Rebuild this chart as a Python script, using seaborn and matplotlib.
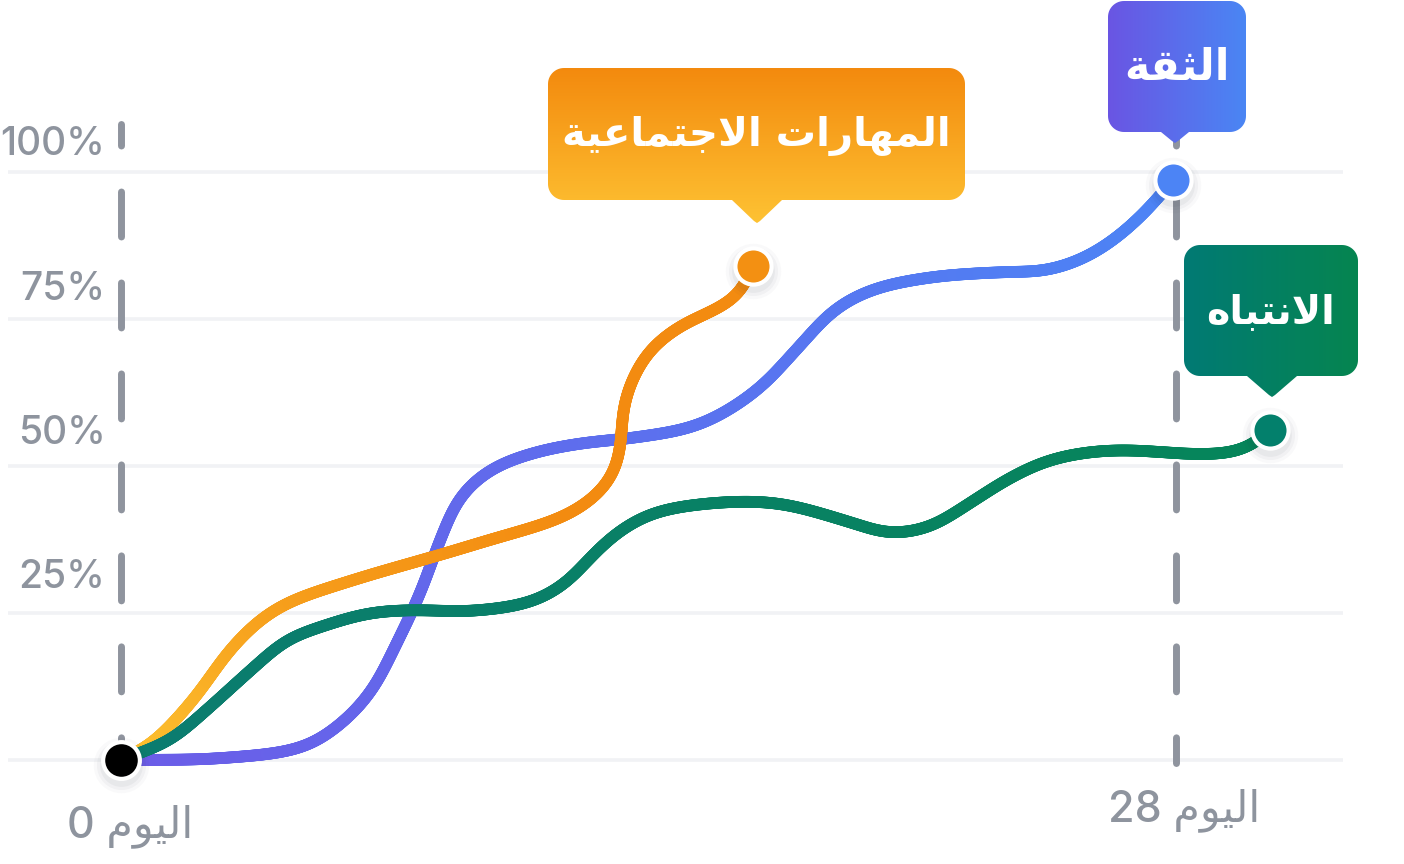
import numpy as np
import matplotlib
matplotlib.use("Agg")
import matplotlib.pyplot as plt
import seaborn as sns
from matplotlib.collections import LineCollection
from matplotlib.patches import Polygon
from matplotlib.colors import to_rgb
from matplotlib.transforms import offset_copy

sns.set_theme(style="white")
plt.rcParams["font.family"] = ["Inter", "DejaVu Sans"]
plt.rcParams["lines.scale_dashes"] = False

# ---------------- data ----------------
series_names = ["الثقة", "المهارات الاجتماعية", "الانتباه"]

conf_day = [0.0, 2.63, 4.83, 5.73, 6.61, 7.32, 7.94, 8.47, 9.0, 9.79, 10.93, 12.26,
            13.59, 15.37, 16.88, 17.91, 18.92, 19.9, 21.5, 23.49, 24.5, 25.5,
            26.33, 27.18, 27.92]
conf_val = [0.0, 0.3, 2.2, 5.6, 11.4, 19.9, 28.4, 37.4, 44.7, 49.3, 52.2, 53.9,
            54.8, 57.1, 62.9, 69.7, 76.5, 79.9, 82.1, 83.0, 83.2, 85.2,
            88.4, 93.2, 98.6]

social_day = [0.0, 0.77, 1.91, 2.89, 3.69, 4.41, 6.16, 8.47, 9.61, 11.84, 12.71,
              13.11, 13.27, 13.32, 13.56, 14.04, 14.84, 15.9, 16.43, 16.77]
social_val = [0.0, 2.6, 10.2, 18.7, 23.8, 26.7, 30.6, 34.9, 37.1, 41.7, 45.6,
              49.3, 53.9, 59.5, 64.6, 69.7, 73.8, 77.0, 79.4, 84.0]

attn_day = [0.0, 1.3, 2.18, 3.5, 4.4, 5.28, 6.61, 7.94, 9.18, 10.93, 11.84, 12.45,
            13.16, 14.04, 15.37, 17.38, 19.43, 20.33, 21.44, 22.48, 23.49, 24.5,
            25.5, 26.54, 27.55, 28.56, 29.56, 30.07, 30.49]
attn_val = [0.0, 3.4, 8.0, 15.6, 20.4, 22.6, 25.0, 25.5, 25.3, 27.0, 30.3, 34.4,
            38.6, 41.8, 43.5, 43.7, 40.3, 38.6, 39.6, 43.5, 47.6, 50.7,
            52.2, 52.7, 52.4, 52.0, 52.4, 53.7, 56.1]

grid_values = [0, 25, 50, 75, 100]
tick_values = [25, 50, 75, 100]
tick_labels = ["25%", "50%", "75%", "100%"]
day_marks = [0, 28]
day_word = "اليوم"

# ---------------- Arabic shaping (presentation forms, visual order) ----------------
FORMS = {
    "ا": ("\uFE8D", "\uFE8E", None, None),
    "ب": ("\uFE8F", "\uFE90", "\uFE91", "\uFE92"),
    "ة": ("\uFE93", "\uFE94", None, None),
    "ت": ("\uFE95", "\uFE96", "\uFE97", "\uFE98"),
    "ث": ("\uFE99", "\uFE9A", "\uFE9B", "\uFE9C"),
    "ج": ("\uFE9D", "\uFE9E", "\uFE9F", "\uFEA0"),
    "ر": ("\uFEAD", "\uFEAE", None, None),
    "ع": ("\uFEC9", "\uFECA", "\uFECB", "\uFECC"),
    "ق": ("\uFED5", "\uFED6", "\uFED7", "\uFED8"),
    "ل": ("\uFEDD", "\uFEDE", "\uFEDF", "\uFEE0"),
    "م": ("\uFEE1", "\uFEE2", "\uFEE3", "\uFEE4"),
    "ن": ("\uFEE5", "\uFEE6", "\uFEE7", "\uFEE8"),
    "ه": ("\uFEE9", "\uFEEA", "\uFEEB", "\uFEEC"),
    "و": ("\uFEED", "\uFEEE", None, None),
    "ي": ("\uFEF1", "\uFEF2", "\uFEF3", "\uFEF4"),
}


def shape_word(word):
    units, i = [], 0
    while i < len(word):
        if word[i] == "ل" and i + 1 < len(word) and word[i + 1] == "ا":
            units.append("LA")
            i += 2
        else:
            units.append(word[i])
            i += 1

    def dual(u):
        return u != "LA" and u in FORMS and FORMS[u][2] is not None

    def joinable(u):
        return u == "LA" or u in FORMS

    out = []
    for k, u in enumerate(units):
        pj = k > 0 and dual(units[k - 1])
        nj = k + 1 < len(units) and joinable(units[k + 1]) and dual(u)
        if u == "LA":
            out.append("\uFEFC" if pj else "\uFEFB")
            continue
        if u not in FORMS:
            out.append(u)
            continue
        iso, fin, ini, med = FORMS[u]
        out.append(med if (pj and nj) else fin if pj else ini if nj else iso)
    return "".join(out)


def visual(text):
    return " ".join(shape_word(w)[::-1] for w in text.split(" ")[::-1])


# ---------------- figure ----------------
W, H = 1404, 864
fig = plt.figure(figsize=(W / 100, H / 100), dpi=100)
fig.patch.set_facecolor("white")
ax = fig.add_axes([0, 0, 1, 1])
PX_DAY, PX_PCT = 37.68, 5.88
ax.set_xlim(-121 / PX_DAY, (W - 121) / PX_DAY)
ax.set_ylim(-(H - 760) / PX_PCT, 760 / PX_PCT)
ax.axis("off")

# gridlines
for v in grid_values:
    ax.plot([-3.0, 32.43], [v, v], color="#F1F2F5", lw=2.6, zorder=1,
            solid_capstyle="butt")

# dashed day markers
for d in day_marks:
    ax.plot([d, d], [108.16, -0.5], color="#8F949E", lw=5.0,
            linestyle=(16.9, (32.4, 33.1)), dash_capstyle="round", zorder=2)


def catmull(P, n=40, alpha=0.5):
    P = np.asarray(P, float)
    P = np.vstack([2 * P[0] - P[1], P, 2 * P[-1] - P[-2]])
    out = []
    for i in range(1, len(P) - 2):
        p0, p1, p2, p3 = P[i - 1], P[i], P[i + 1], P[i + 2]
        t0 = 0.0
        t1 = t0 + max(np.linalg.norm(p1 - p0), 1e-6) ** alpha
        t2 = t1 + max(np.linalg.norm(p2 - p1), 1e-6) ** alpha
        t3 = t2 + max(np.linalg.norm(p3 - p2), 1e-6) ** alpha
        t = np.linspace(t1, t2, n, endpoint=False)[:, None]
        A1 = (t1 - t) / (t1 - t0) * p0 + (t - t0) / (t1 - t0) * p1
        A2 = (t2 - t) / (t2 - t1) * p1 + (t - t1) / (t2 - t1) * p2
        A3 = (t3 - t) / (t3 - t2) * p2 + (t - t2) / (t3 - t2) * p3
        B1 = (t2 - t) / (t2 - t0) * A1 + (t - t0) / (t2 - t0) * A2
        B2 = (t3 - t) / (t3 - t1) * A2 + (t - t1) / (t3 - t1) * A3
        C = (t2 - t) / (t2 - t1) * B1 + (t - t1) / (t2 - t1) * B2
        out.append(C)
    out.append(P[-2][None, :])
    return np.vstack(out)


def resample(c, step=1.0):
    d = np.r_[0, np.cumsum(np.linalg.norm(np.diff(c, axis=0), axis=1))]
    s = np.r_[np.arange(0, d[-1], step), d[-1]]
    return np.c_[np.interp(s, d, c[:, 0]), np.interp(s, d, c[:, 1])]


def blur(c, sigma=14.0):
    pad = int(3 * sigma)
    pad = min(pad, len(c) - 2)
    head = 2 * c[0] - c[1:pad + 1][::-1]
    tail = 2 * c[-1] - c[-pad - 1:-1][::-1]
    cc = np.vstack([head, c, tail])
    k = np.exp(-0.5 * (np.arange(-pad, pad + 1) / sigma) ** 2)
    k /= k.sum()
    x = np.convolve(cc[:, 0], k, "same")[pad:-pad]
    y = np.convolve(cc[:, 1], k, "same")[pad:-pad]
    return np.c_[x, y]


def smooth(days, vals):
    disp = ax.transData.transform(np.c_[days, vals])
    curve = blur(resample(catmull(disp)))
    return ax.transData.inverted().transform(curve)


def mix(c0, c1, t):
    c0, c1 = np.array(to_rgb(c0)), np.array(to_rgb(c1))
    t = np.clip(np.asarray(t), 0, 1)[:, None]
    return c0 * (1 - t) + c1 * t


LW = 8.4
specs = [
    (conf_day, conf_val, "#6C5CE7", "#4C84F5", "x", (0, 28), "#4C84F5"),
    (social_day, social_val, "#FCBE2E", "#F38B10", "y", (2, 42), "#F39012"),
    (attn_day, attn_val, "#0B7C70", "#06855A", "x", (0, 30), "#03806C"),
]
for days, vals, c0, c1, axis_, rng, _ in specs:
    cur = smooth(days, vals)
    sns.lineplot(x=cur[:, 0], y=cur[:, 1], sort=False, estimator=None, ax=ax,
                 color=c1, lw=LW, zorder=3, legend=False)
    segs = np.stack([cur[:-1], cur[1:]], axis=1)
    mids = 0.5 * (cur[:-1] + cur[1:])
    key = mids[:, 0] if axis_ == "x" else mids[:, 1]
    t = (key - rng[0]) / (rng[1] - rng[0])
    lc = LineCollection(segs, colors=mix(c0, c1, t), linewidths=LW,
                        capstyle="round", joinstyle="round", zorder=4)
    ax.add_collection(lc)

# marker shadows
shadow_tr = offset_copy(ax.transData, fig=fig, x=0, y=-5, units="dots")
end_x = [conf_day[-1], social_day[-1], attn_day[-1], 0]
end_y = [conf_val[-1], social_val[-1], attn_val[-1], 0]
for s, a in [(1600, 0.025), (1250, 0.035), (950, 0.045)]:
    ax.scatter(end_x, end_y, s=s, color="#1F2937", alpha=a, lw=0,
               transform=shadow_tr, zorder=5)

# end markers
for (days, vals, c0, c1, axis_, rng, mc) in specs:
    sns.scatterplot(x=[days[-1]], y=[vals[-1]], s=680, color=mc,
                    edgecolor="white", linewidth=3.0, ax=ax, zorder=6,
                    legend=False)
# start marker
sns.scatterplot(x=[conf_day[0]], y=[conf_val[0]], s=700, color="black",
                edgecolor="white", linewidth=3.0, ax=ax, zorder=7, legend=False)

# y tick labels
for v, lab in zip(tick_values, tick_labels):
    ax.text(-0.41, v + 4.6 + (100 - v) * 0.02, lab, ha="right", va="center",
            fontsize=28, fontweight="medium", color="#8E949E", zorder=3)

# day labels
ax.text(day_marks[0] + 0.24, -13.1, f"{day_marks[0]} {visual(day_word)}",
        ha="center", va="baseline", fontsize=31, fontweight="medium",
        color="#8E949E")
ax.text(day_marks[1] + 0.21, -10.4, f"{day_marks[1]} {visual(day_word)}",
        ha="center", va="baseline", fontsize=31, fontweight="medium",
        color="#8E949E")

# ---------------- bubbles (pixel overlay) ----------------
ov = fig.add_axes([0, 0, 1, 1])
ov.set_xlim(0, W)
ov.set_ylim(H, 0)
ov.axis("off")


def bubble(x0, x1, y0, y1, tipx, tiph, half, c0, c1, direction, label, fs,
           r=16):
    pts = []

    def arc(cx, cy, a0, a1):
        a = np.radians(np.linspace(a0, a1, 14))
        return list(zip(cx + r * np.cos(a), cy + r * np.sin(a)))

    pts += arc(x0 + r, y0 + r, 180, 270)
    pts += arc(x1 - r, y0 + r, 270, 360)
    pts += arc(x1 - r, y1 - r, 0, 90)
    tipy = y1 + tiph
    pts += [(tipx + half, y1), (tipx + 3, tipy - 2), (tipx, tipy),
            (tipx - 3, tipy - 2), (tipx - half, y1)]
    pts += arc(x0 + r, y1 - r, 90, 180)
    poly = Polygon(pts, closed=True, facecolor="none", edgecolor="none",
                   transform=ov.transData)
    ov.add_patch(poly)
    n = 256
    tt = np.linspace(0, 1, n)
    if direction == "x":
        g = mix(c0, c1, tt)[None, :, :].repeat(8, axis=0)
    else:
        g = mix(c0, c1, tt)[:, None, :].repeat(8, axis=1)
    im = ov.imshow(g, extent=(x0, x1, tipy, y0), origin="upper",
                   aspect="auto", interpolation="bilinear", zorder=8)
    im.set_clip_path(poly)
    ov.text((x0 + x1) / 2, (y0 + y1) / 2 + 2, visual(label), color="white",
            fontsize=fs, fontweight="bold", ha="center", va="center",
            family="DejaVu Sans", zorder=9)


bubble(1108, 1246, 1, 132, 1175, 11, 14, "#6A55E3", "#4A86F4", "x",
       series_names[0], 31)
bubble(548, 965, 68, 200, 757, 23, 25, "#F38A0E", "#FEC233", "y",
       series_names[1], 29)
bubble(1184, 1358, 245, 376, 1272, 21, 25, "#017A74", "#068550", "x",
       series_names[2], 28.5)

ov.set_xlim(0, W)
ov.set_ylim(H, 0)

fig.savefig("out.png", dpi=100, facecolor="white")
